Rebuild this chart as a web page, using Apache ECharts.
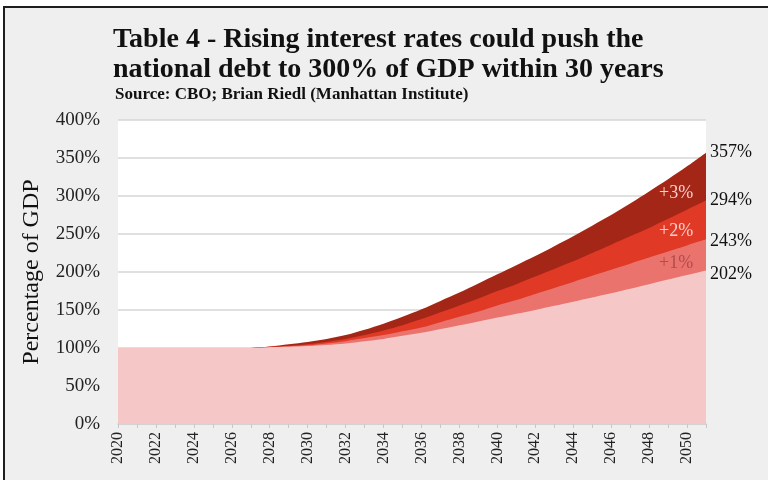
<!DOCTYPE html>
<html>
<head>
<meta charset="utf-8">
<script src="https://cdn.jsdelivr.net/npm/echarts@6/dist/echarts.min.js"></script>
<style>
  html, body { margin: 0; padding: 0; background: #ffffff; }
  #frame { position: absolute; left: 3px; top: 6px; width: 780px; height: 490px;
           background: #efefef; border-left: 2px solid #1e1e1e; border-top: 2px solid #1e1e1e; }
  #chart { position: absolute; left: 0; top: 0; width: 768px; height: 480px; }
</style>
</head>
<body>
<div id="frame"></div>
<div id="chart"></div>
<script>
const years = ['2020','2021','2022','2023','2024','2025','2026','2027','2028','2029','2030','2031','2032','2033','2034','2035','2036','2037','2038','2039','2040','2041','2042','2043','2044','2045','2046','2047','2048','2049','2050','2051'];
const baseline = [100,100,100,100,100,100,100,100,101,101.5,102.5,104,106,109,112,116,120,125,130,135,140,145,150,155.5,161,166.5,172,178,184,190,196,202];
const plus1 = [100,100,100,100,100,100,100,100,101,102,103.5,106,109,113,117,122,127,134,141,148,156,163,171,179,187,195,203,211,219,227,235,243];
const plus2 = [100,100,100,100,100,100,100,100,101.5,103,105,108,112,117,123,130,138,147,156,165,175,184,194,204,214,225,236,247,258,270,282,294];
const plus3 = [100,100,100,100,100,100,100,100,102,105,108,112,117,124,132,141,151,162,173,185,197,209,221,234,247,261,275,290,306,322,339,357];
const yTicks = [0,50,100,150,200,250,300,350,400];
const bandLabels = [
  { text: '+3%', year: '2049', value: 303, color: '#f7d0cb' },
  { text: '+2%', year: '2049', value: 254, color: '#f7d0cb' },
  { text: '+1%', year: '2049', value: 212, color: '#b24c4b' }
];

const serif = '"Liberation Serif", "Times New Roman", serif';
const chart = echarts.init(document.getElementById('chart'));

function areaSeries(name, data, color, dy) {
  return {
    name: name, type: 'line', data: data, symbol: 'none', smooth: 0.3,
    lineStyle: { width: 0 }, areaStyle: { color: color, opacity: 1 },
    endLabel: { show: true, formatter: p => Math.round(p.value) + '%',
                fontFamily: serif, fontSize: 18, color: '#111', distance: 4, offset: [0, dy] }
  };
}

const series = [
  areaSeries('+3%', plus3, '#a42617', 0),
  areaSeries('+2%', plus2, '#e03a27', 0),
  areaSeries('+1%', plus1, '#ea736d', 2),
  areaSeries('CBO', baseline, '#f5c7c7', 4)
];
series[3].markPoint = {
  symbol: 'circle', symbolSize: 0, silent: true,
  data: bandLabels.map(b => ({
    coord: [b.year, b.value],
    label: { show: true, formatter: b.text, color: b.color, fontFamily: serif,
             fontSize: 18, fontWeight: 'normal', offset: [8, 0] }
  }))
};

chart.setOption({
  backgroundColor: 'transparent',
  animation: false,
  title: [
    { text: 'Table 4 - Rising interest rates could push the\nnational debt to 300% of GDP within 30 years',
      left: 108, top: 20,
      textStyle: { fontFamily: serif, fontSize: 28, fontWeight: 'bold', color: '#111', lineHeight: 30 } },
    { text: 'Source: CBO; Brian Riedl (Manhattan Institute)', left: 110, top: 81,
      textStyle: { fontFamily: serif, fontSize: 17, fontWeight: 'bold', color: '#111' } }
  ],
  grid: { left: 118, right: 62, top: 120, bottom: 56, show: true, backgroundColor: '#ffffff', borderWidth: 0 },
  xAxis: {
    type: 'category', data: years, boundaryGap: false,
    axisLine: { lineStyle: { color: '#d0d0d0', width: 1.5 } },
    axisTick: { show: true, interval: 0, length: 4, lineStyle: { color: '#c8c8c8' } },
    axisLabel: { interval: 1, rotate: 90, fontFamily: serif, fontSize: 16, color: '#222', margin: 8 },
    splitLine: { show: false }
  },
  yAxis: {
    type: 'value', min: 0, max: 400, interval: 50,
    name: 'Percentage of GDP', nameLocation: 'middle', nameGap: 74, nameRotate: 90,
    nameTextStyle: { fontFamily: serif, fontSize: 24, color: '#111' },
    axisLine: { show: false }, axisTick: { show: false },
    axisLabel: { formatter: v => yTicks.includes(v) ? v + '%' : '', fontFamily: serif, fontSize: 19, color: '#222', margin: 18 },
    splitLine: { lineStyle: { color: '#d6d6d6', width: 1.5 } }
  },
  series: series
});
</script>
</body>
</html>
